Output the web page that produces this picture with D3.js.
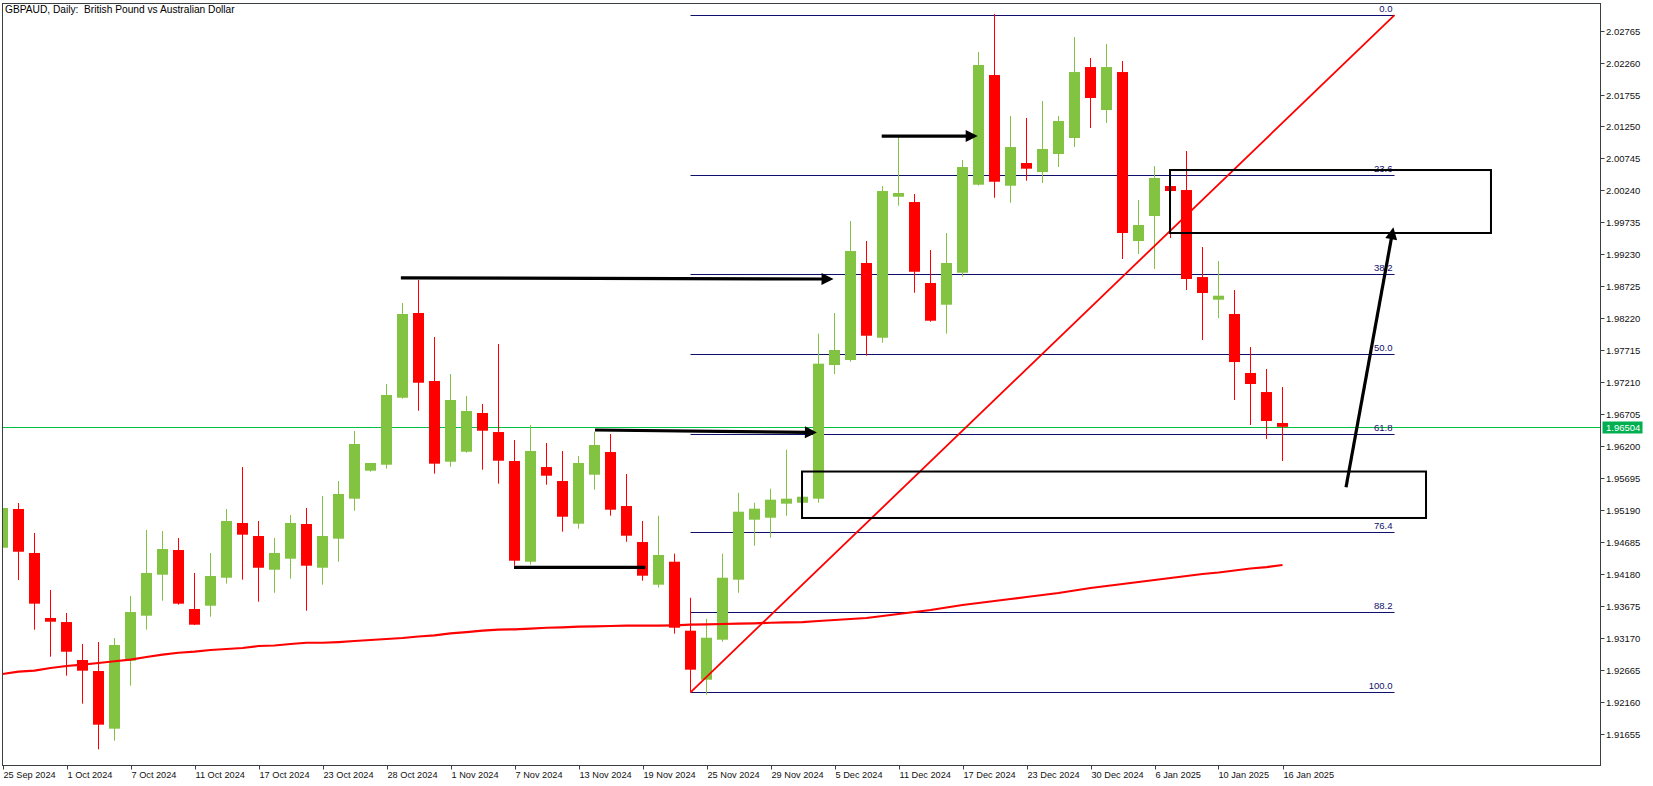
<!DOCTYPE html>
<html><head><meta charset="utf-8">
<script src="https://cdn.jsdelivr.net/npm/d3@7"></script>
<style>
body{margin:0;background:#fff}
svg{display:block}
text{font-family:"Liberation Sans",Arial,sans-serif}
</style>
</head><body>
<svg id="chart" width="1653" height="786"></svg>
<script>
// ---------------- DATA ----------------
const title = "GBPAUD, Daily:  British Pound vs Australian Dollar";
const tickLabels = ["25 Sep 2024","1 Oct 2024","7 Oct 2024","11 Oct 2024","17 Oct 2024","23 Oct 2024","28 Oct 2024","1 Nov 2024","7 Nov 2024","13 Nov 2024","19 Nov 2024","25 Nov 2024","29 Nov 2024","5 Dec 2024","11 Dec 2024","17 Dec 2024","23 Dec 2024","30 Dec 2024","6 Jan 2025","10 Jan 2025","16 Jan 2025"];
const barsPerLabel = 4;
const opens = [1.94594,1.95206,1.94511,1.93484,1.93420,1.92820,1.92646,1.91735,1.92809,1.93520,1.94168,1.94558,1.93626,1.93678,1.94120,1.94985,1.94779,1.94247,1.94421,1.94969,1.94278,1.94737,1.95369,1.95811,1.95906,1.96964,1.98303,1.97228,1.95953,1.96111,1.96723,1.96422,1.95964,1.94373,1.95869,1.95648,1.94974,1.95748,1.96106,1.95253,1.94684,1.94010,1.94373,1.93283,1.92509,1.93141,1.94089,1.95037,1.95068,1.95290,1.95305,1.95369,1.97481,1.97560,1.99093,1.97912,2.00140,2.00056,1.98777,1.98434,1.98939,2.00330,2.02063,2.00314,2.00673,2.00530,2.00815,2.01068,2.02189,2.01510,2.02110,1.99440,1.99835,2.00309,2.00246,1.98871,1.98513,1.98287,1.97355,1.97054,1.96565];
const highs = [1.95269,1.95301,1.94827,1.93926,1.93563,1.93073,1.93104,1.93168,1.93831,1.94874,1.94858,1.94748,1.94195,1.94511,1.95206,1.95869,1.95016,1.94748,1.95111,1.95222,1.95411,1.95648,1.96438,1.95933,1.97181,1.98461,1.98824,1.97923,1.97339,1.96991,1.96865,1.97813,1.96296,1.96533,1.96249,1.96122,1.96043,1.96427,1.96391,1.95759,1.95016,1.95100,1.94500,1.93804,1.93473,1.94500,1.95463,1.95305,1.95527,1.96143,1.95416,1.97976,1.98303,1.99756,1.99440,2.00309,2.01083,2.00183,1.99298,1.99567,2.00720,2.02426,2.03027,2.01415,2.01384,2.01652,2.01415,2.02663,2.02332,2.02553,2.02284,2.00088,2.00625,2.00341,2.00862,1.99345,1.99124,1.98666,1.97765,1.97418,1.97133];
const lows = [1.94526,1.94084,1.93299,1.92872,1.92572,1.92130,1.91409,1.91545,1.92414,1.93299,1.93757,1.93694,1.93373,1.93504,1.94026,1.94089,1.93741,1.93883,1.94105,1.93599,1.94010,1.94373,1.95179,1.95795,1.95843,1.96949,1.96759,1.95764,1.95874,1.96095,1.95827,1.95606,1.94310,1.94326,1.95590,1.94847,1.94895,1.95511,1.95100,1.94689,1.94073,1.93962,1.93236,1.92319,1.92272,1.93109,1.93883,1.94626,1.94752,1.95100,1.95293,1.95305,1.97339,1.97533,1.97628,1.97833,1.99998,1.98623,1.98165,1.97976,1.98876,2.00317,2.00124,2.00045,2.00393,2.00357,2.00609,2.00925,2.01226,2.01305,1.99156,1.99235,1.98998,1.99488,1.98666,1.97876,1.98224,1.96928,1.96533,1.96312,1.95964];
const closes = [1.95222,1.94531,1.93710,1.93425,1.92951,1.92651,1.91798,1.93057,1.93578,1.94195,1.94574,1.93710,1.93378,1.94147,1.95016,1.94800,1.94278,1.94511,1.94985,1.94310,1.94779,1.95443,1.96233,1.95933,1.97007,1.98287,1.97201,1.95922,1.96928,1.96754,1.96443,1.95969,1.94389,1.96122,1.95732,1.95084,1.95933,1.96217,1.95195,1.94784,1.94152,1.94479,1.93330,1.92667,1.93172,1.94120,1.95163,1.95211,1.95353,1.95369,1.95400,1.97502,1.97718,1.99282,1.97944,2.00230,2.00199,1.98955,1.98181,1.99093,2.00609,2.02221,2.00377,2.00925,2.00583,2.00894,2.01336,2.02110,2.01700,2.02189,1.99567,1.99693,2.00436,2.00230,1.98840,1.98619,1.98576,1.97528,1.97181,1.96596,1.96504];
const movingAverage = [1.92599,1.92635,1.92651,1.92694,1.92725,1.92746,1.92773,1.92800,1.92825,1.92867,1.92904,1.92935,1.92951,1.92978,1.92994,1.93010,1.93041,1.93049,1.93073,1.93093,1.93093,1.93104,1.93120,1.93136,1.93152,1.93168,1.93191,1.93210,1.93242,1.93262,1.93283,1.93299,1.93305,1.93315,1.93330,1.93337,1.93346,1.93352,1.93357,1.93362,1.93362,1.93362,1.93368,1.93378,1.93384,1.93389,1.93394,1.93400,1.93409,1.93416,1.93420,1.93436,1.93452,1.93468,1.93484,1.93515,1.93547,1.93578,1.93610,1.93650,1.93689,1.93721,1.93752,1.93784,1.93815,1.93847,1.93879,1.93918,1.93958,1.93989,1.94021,1.94052,1.94084,1.94116,1.94147,1.94179,1.94203,1.94234,1.94266,1.94289,1.94321];
const priceTicks = [2.02765,2.02260,2.01755,2.01250,2.00745,2.00240,1.99735,1.99230,1.98725,1.98220,1.97715,1.97210,1.96705,1.96200,1.95695,1.95190,1.94685,1.94180,1.93675,1.93170,1.92665,1.92160,1.91655];
const currentPrice = 1.96504;
const fibLevels = [0.0, 23.6, 38.2, 50.0, 61.8, 76.4, 88.2, 100.0];
const fibHigh = 2.0301, fibLow = 1.9231;
const fibFromBar = 43, fibToBar = 87;
const arrows = [
  {fromBar: 24.9,  fromPrice: 1.98858, toBar: 51.94, toPrice: 1.98840, head: true},
  {fromBar: 54.95, fromPrice: 2.01099, toBar: 60.95, toPrice: 2.01099, head: true},
  {fromBar: 31.97, fromPrice: 1.94285, toBar: 40.05, toPrice: 1.94285, head: false},
  {fromBar: 37.03, fromPrice: 1.96454, toBar: 50.9,  toPrice: 1.96415, head: true},
  {fromBar: 83.97, fromPrice: 1.95549, toBar: 86.93, toPrice: 1.99657, head: true}
];
const zones = [
  {fromBar: 72.97, toBar: 93.03, top: 2.00562, bottom: 1.99567},
  {fromBar: 49.97, toBar: 88.97, top: 1.95798, bottom: 1.95064}
];

// ---------------- LAYOUT ----------------
const W = 1653, H = 786;
const plot = {left: 2.5, right: 1600, top: 3, bottom: 765};
const barWidth = 11;
const col = {up: "#82c341", down: "#ff0000", frame: "#3a3f44", fib: "#0f0f6e", price: "#00c040", priceLabel: "#00b050"};

const svg = d3.select("#chart");
svg.append("rect").attr("width", W).attr("height", H).attr("fill", "#fff");

const x = d3.scaleLinear().domain([0, (plot.right - plot.left) / 16]).range([plot.left, plot.right]);
const y = d3.scaleLinear().domain([1.91161, 2.03201]).range([plot.bottom, plot.top]);

svg.append("clipPath").attr("id", "clip").append("rect")
  .attr("x", plot.left).attr("y", plot.top)
  .attr("width", plot.right - plot.left).attr("height", plot.bottom - plot.top);

const g = svg.append("g").attr("clip-path", "url(#clip)");

const bars = opens.map((o, i) => ({i, o, h: highs[i], l: lows[i], c: closes[i]}));

// current price line
g.append("line")
  .attr("x1", plot.left).attr("x2", plot.right)
  .attr("y1", Math.round(y(currentPrice)) + 0.5).attr("y2", Math.round(y(currentPrice)) + 0.5)
  .attr("stroke", col.price).attr("stroke-width", 1);

// fib lines
const fibPrice = lv => fibHigh - (fibHigh - fibLow) * lv / 100;
fibLevels.forEach(lv => {
  const yy = Math.round(y(fibPrice(lv))) + 0.5;
  g.append("line").attr("x1", x(fibFromBar)).attr("x2", x(fibToBar))
    .attr("y1", yy).attr("y2", yy).attr("stroke", col.fib).attr("stroke-width", 1);
  g.append("text").attr("x", x(fibToBar) - 2).attr("y", yy - 4)
    .attr("text-anchor", "end").attr("font-size", 9.5).attr("fill", col.fib)
    .text(lv.toFixed(1));
});

// candles
const cg = g.append("g");
cg.selectAll("line.wick").data(bars).join("line")
  .attr("class", "wick")
  .attr("x1", d => x(d.i)).attr("x2", d => x(d.i))
  .attr("y1", d => y(d.h)).attr("y2", d => y(d.l))
  .attr("stroke", d => d.c >= d.o ? col.up : col.down).attr("stroke-width", 1);
cg.selectAll("rect.body").data(bars).join("rect")
  .attr("class", "body")
  .attr("x", d => x(d.i) - barWidth / 2)
  .attr("width", barWidth)
  .attr("y", d => y(Math.max(d.o, d.c)))
  .attr("height", d => Math.max(1, Math.abs(y(d.o) - y(d.c))))
  .attr("fill", d => d.c >= d.o ? col.up : col.down);

// moving average
g.append("path").datum(movingAverage)
  .attr("d", d3.line().x((d, i) => x(i)).y(d => y(d)))
  .attr("fill", "none").attr("stroke", "#ff0000").attr("stroke-width", 2.2);

// fib trend line
g.append("line")
  .attr("x1", x(fibFromBar)).attr("y1", y(fibLow))
  .attr("x2", x(fibToBar)).attr("y2", y(fibHigh))
  .attr("stroke", "#ff0000").attr("stroke-width", 1.8);

// zones
zones.forEach(z => {
  g.append("rect")
    .attr("x", x(z.fromBar)).attr("y", y(z.top))
    .attr("width", x(z.toBar) - x(z.fromBar)).attr("height", y(z.bottom) - y(z.top))
    .attr("fill", "none").attr("stroke", "#000").attr("stroke-width", 2);
});

// arrows
arrows.forEach(a => {
  const x1 = x(a.fromBar), y1 = y(a.fromPrice), x2 = x(a.toBar), y2 = y(a.toPrice);
  const dx = x2 - x1, dy = y2 - y1, len = Math.hypot(dx, dy);
  const ux = dx / len, uy = dy / len, px = -uy, py = ux;
  const hl = 12, hw = 6;
  const bx = a.head ? x2 - ux * hl : x2, by = a.head ? y2 - uy * hl : y2;
  g.append("line").attr("x1", x1).attr("y1", y1).attr("x2", bx + ux * 2).attr("y2", by + uy * 2)
    .attr("stroke", "#000").attr("stroke-width", 3.2);
  if (a.head) {
    g.append("path")
      .attr("d", `M${x2},${y2}L${bx + px * hw},${by + py * hw}L${bx - px * hw},${by - py * hw}Z`)
      .attr("fill", "#000");
  }
});

// title
svg.append("text").attr("x", 5).attr("y", 13).attr("font-size", 10.2)
  .style("white-space", "pre").attr("xml:space", "preserve")
  .attr("fill", "#000").text(title);

// frame
svg.append("rect")
  .attr("x", plot.left).attr("y", plot.top + 0.5)
  .attr("width", plot.right + 0.5 - plot.left).attr("height", plot.bottom - plot.top)
  .attr("fill", "none").attr("stroke", col.frame).attr("stroke-width", 1);

// y axis
const ya = svg.append("g");
priceTicks.forEach(p => {
  const yy = Math.round(y(p)) + 0.5;
  ya.append("line").attr("x1", plot.right + 0.5).attr("x2", plot.right + 4.5)
    .attr("y1", yy).attr("y2", yy).attr("stroke", col.frame);
  ya.append("text").attr("x", plot.right + 6).attr("y", yy).attr("dy", "0.35em")
    .attr("font-size", 9.5).attr("fill", "#111").text(p.toFixed(5));
});
// current price label
const cy = Math.round(y(currentPrice)) + 0.5;
ya.append("rect").attr("x", plot.right + 2.5).attr("y", cy - 6).attr("width", 40).attr("height", 12).attr("fill", col.priceLabel);
ya.append("text").attr("x", plot.right + 6).attr("y", cy).attr("dy", "0.35em")
  .attr("font-size", 9.5).attr("fill", "#fff").text(currentPrice.toFixed(5));

// x axis
const xa = svg.append("g");
tickLabels.forEach((lab, k) => {
  const xx = Math.round(x(k * barsPerLabel)) + 0.5;
  xa.append("line").attr("x1", xx).attr("x2", xx).attr("y1", plot.bottom + 0.5).attr("y2", plot.bottom + 4.5).attr("stroke", col.frame);
  xa.append("text").attr("x", xx).attr("y", 778).attr("font-size", 9.2).attr("fill", "#111").text(lab);
});
</script>
</body></html>
